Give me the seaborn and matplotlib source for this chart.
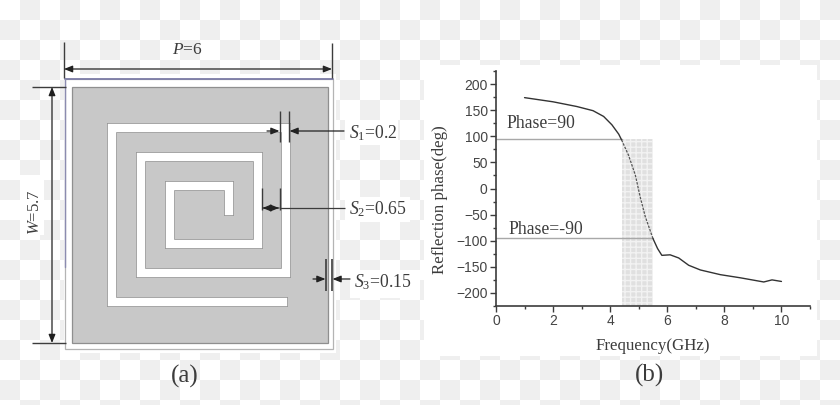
import numpy as np
import pandas as pd
import matplotlib
matplotlib.use("Agg")
import matplotlib.pyplot as plt
from matplotlib.patches import Rectangle
import seaborn as sns

sns.set_style("white")
plt.rcParams["font.family"] = "Liberation Sans"
plt.rcParams["mathtext.fontset"] = "custom"
plt.rcParams["mathtext.rm"] = "Liberation Serif"
plt.rcParams["mathtext.it"] = "Liberation Serif:italic"

# curve
freq_top = [1.0, 2.0, 2.83, 3.4, 3.77, 4.06, 4.3, 4.4]
phase_top = [174, 166, 157, 149, 138, 122, 104, 93]
freq_mid = [4.4, 4.64, 4.88, 5.05, 5.23, 5.5]
phase_mid = [93, 64, 26, -16, -54, -96]
freq_low = [5.5, 5.66, 5.81, 6.1, 6.4, 6.75, 7.16, 7.86, 8.56, 9.38, 9.67, 10.0]
phase_low = [-96, -115, -128, -127, -133, -147, -156, -165, -171, -179, -175, -178]
band = [4.4, 5.5]
phase_upper = 95
phase_lower = -95
x_major = [0, 2, 4, 6, 8, 10]
x_minor = [1, 3, 5, 7, 9, 11]
y_major = [-200, -150, -100, -50, 0, 50, 100, 150, 200]
y_minor = [-225, -175, -125, -75, -25, 25, 75, 125, 175, 225]

# spiral slot centre line of panel (a), in picture pixels
spiral_x = [282.5, 111.7, 111.7, 286, 286, 140.7, 140.7, 257.7, 257.7, 170, 170, 228.7, 228.7]
spiral_y = [301.7, 301.7, 127.7, 127.7, 272.7, 272.7, 156.7, 156.7, 244.3, 244.3, 185.7, 185.7, 211]

dark = "#3c3c3c"
serif = "Liberation Serif"

fig = plt.figure(figsize=(8.4, 4.05), dpi=100)

# whole picture axes in pixels, for the checker background and panel (a)
bg = fig.add_axes([0, 0, 1, 1])
bg.set_xlim(0, 840)
bg.set_ylim(405, 0)
bg.axis("off")

checker = np.indices((21, 42)).sum(axis=0) % 2
bg.imshow(checker, extent=(0, 840, 420, 0), cmap="gray_r", vmin=0, vmax=16, aspect="auto", interpolation="nearest")
bg.set_xlim(0, 840)
bg.set_ylim(405, 0)

# white boxes behind the panels and labels
for x, y, w, h in [(424, 65, 393, 291), (64, 74, 272, 279), (20, 175, 24, 60), (345, 120, 53, 25), (345, 197, 65, 25), (350, 270, 70, 28)]:
    bg.add_patch(Rectangle((x, y), w, h, fc="white", ec="none"))

# panel (a) cell
bg.add_patch(Rectangle((65, 79), 268, 270, fc="white", ec="#b4b4b4", lw=0.9))
bg.add_patch(Rectangle((72, 87), 256, 256, fc="#c8c8c8", ec="#8f8f8f", lw=0.9))
bg.plot(spiral_x, spiral_y, color="#969696", lw=7.2, solid_joinstyle="miter", solid_capstyle="projecting")
bg.plot(spiral_x, spiral_y, color="white", lw=6.0, solid_joinstyle="miter", solid_capstyle="projecting")
bg.plot([65, 333], [78.5, 78.5], color="#7c7ca6", lw=1.3)
bg.plot([65, 65], [78, 267], color="#8c8cb0", lw=1.0)


def seg(xs, ys, lw=1.0):
    bg.plot(xs, ys, color=dark, lw=lw, solid_capstyle="butt")


def arrow(x0, y0, x1, y1, both=False):
    style = "<|-|>" if both else "-|>"
    bg.annotate("", xy=(x1, y1), xytext=(x0, y0),
                arrowprops=dict(arrowstyle=style + ",head_length=0.5,head_width=0.2",
                                color="#222222", lw=0.9, shrinkA=0, shrinkB=0))


# P and W dimensions
seg([63.5, 63.5], [42, 78])
seg([332, 332], [43, 78])
arrow(64, 69, 332, 69, both=True)
seg([32, 66], [87, 87])
seg([32, 66], [343, 343])
arrow(52, 87, 52, 343, both=True)

# S1, S2, S3 dimensions
seg([280, 280], [111, 142])
seg([289, 289], [111, 142])
arrow(267, 131, 279.5, 131)
arrow(344, 131, 289.5, 131)
seg([262, 262], [188, 210])
seg([279.5, 279.5], [188, 210])
arrow(279, 208, 262.5, 208)
arrow(263, 208, 279, 208)
seg([279.5, 345], [208, 208], lw=0.9)
seg([326, 326], [259, 291], lw=1.2)
seg([332, 332], [259, 291], lw=1.2)
arrow(313, 279, 325.5, 279)
arrow(350, 279, 332.5, 279)

bg.text(187, 50, r"$\mathit{P}$=6", family=serif, fontsize=12.5, color=dark, ha="center", va="center")
bg.text(35, 212, r"$\mathit{W}$=5.7", family=serif, fontsize=12, color=dark, ha="center", va="center", rotation=90)
for x, y, s in [(349, 133, r"$\mathit{S}_1$=0.2"), (349, 209, r"$\mathit{S}_2$=0.65"), (354, 282, r"$\mathit{S}_3$=0.15")]:
    bg.text(x, y, s, family=serif, fontsize=12.7, color=dark, ha="left", va="center")
bg.text(185, 376, "(a)", family=serif, fontsize=18, color=dark, ha="center", va="center")
bg.text(649, 375, "(b)", family=serif, fontsize=18, color=dark, ha="center", va="center")

# panel (b)
ax = fig.add_axes([496 / 840, 1 - 306 / 405, 314 / 840, 235 / 405])
ax.patch.set_alpha(0)
ax.fill_between(band, -225, phase_upper, facecolor="#e0e0e0", edgecolor="#f2f2f2", hatch="+++", lw=0)
ax.plot([0, band[0]], [phase_upper, phase_upper], color="#a8a8a8", lw=1.0)
ax.plot([0, band[1]], [phase_lower, phase_lower], color="#a8a8a8", lw=1.0)

sns.lineplot(x=freq_top, y=phase_top, color="#333333", lw=1.0, ax=ax, sort=False, errorbar=None)
sns.lineplot(x=freq_mid, y=phase_mid, color="#555555", lw=0.9, ls=(0, (2, 1)), ax=ax, sort=False, errorbar=None)
sns.lineplot(x=freq_low, y=phase_low, color="#333333", lw=1.0, ax=ax, sort=False, errorbar=None)

ax.set_xlim(0, 11)
ax.set_ylim(-225, 225)
ax.set_xticks(x_major)
ax.set_xticks(x_minor, minor=True)
ax.set_yticks(y_major)
ax.set_yticks(y_minor, minor=True)
ax.tick_params(axis="both", which="major", direction="out", length=4, width=1, color=dark, labelcolor="#444444", labelsize=10, pad=2, bottom=True, left=True)
ax.tick_params(axis="both", which="minor", direction="out", length=2, width=1, color=dark, bottom=True, left=True)
sns.despine(ax=ax)
for side in ["left", "bottom"]:
    ax.spines[side].set_linewidth(1.2)
    ax.spines[side].set_color(dark)

ax.text(0.36, 124, "Phase=90", family=serif, fontsize=12.7, color=dark, va="center")
ax.text(0.43, -78, "Phase=-90", family=serif, fontsize=12.7, color=dark, va="center")
ax.set_xlabel("Frequency(GHz)", family=serif, fontsize=12.2, color=dark, labelpad=7)
ax.set_ylabel("Reflection phase(deg)", family=serif, fontsize=12.2, color=dark)
ax.yaxis.set_label_coords(-48 / 314, 1 - (200 - 71) / 235)

fig.savefig("out.png", dpi=100)
